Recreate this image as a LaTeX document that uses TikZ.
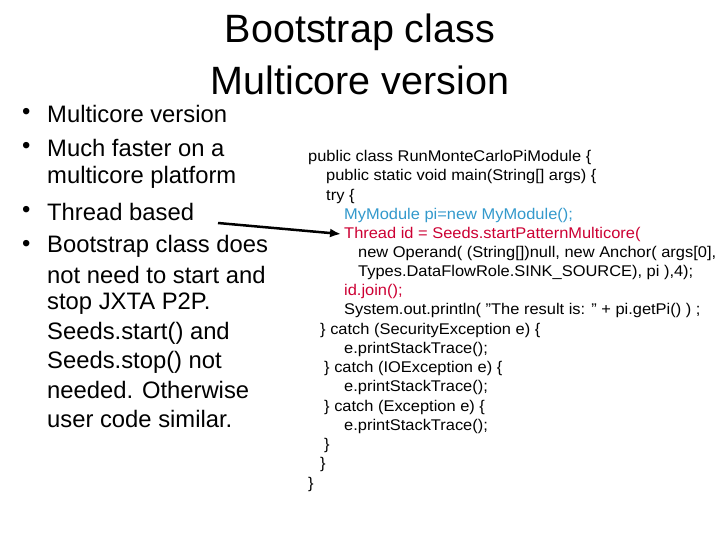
\documentclass[tikz,border=0pt]{standalone}
\usepackage{fontspec}
\setmainfont{Liberation Sans}
\usetikzlibrary{arrows.meta}
\definecolor{cblue}{RGB}{51,153,204}
\definecolor{cred}{RGB}{204,0,51}
\begin{document}
\begin{tikzpicture}[x=1pt,y=-1pt,
  code/.style={anchor=west,inner sep=0pt,font=\fontsize{15.5}{17}\selectfont,xscale=1.06},
  bul/.style={anchor=west,inner sep=0pt,font=\fontsize{23.8}{29}\selectfont},
  ttl/.style={inner sep=0pt,font=\fontsize{39.5}{44}\selectfont}]
\useasboundingbox (0,0) rectangle (720,540);
\node[ttl] (t1) at (360,32) {Bootstrap class};
\node[ttl] (t2) at (360,80) {Multicore version};
\foreach \y/\t [count=\i] in {114/Multicore version,148/Much faster on a,212/Thread based,246/Bootstrap class does}{
  \node[bul] (d\i) at (22,\y) {•};
  \node[bul] (b\i) at (47,\y) {\t};}
\foreach \y/\t [count=\i] in {177/multicore platform,275/not need to start and,304/stop JXTA P2P.,333/Seeds.start() and,362/Seeds.stop() not,390/needed.  Otherwise,419/user code similar.}{
  \node[bul] (c\i) at (47,\y) {\t};}
\node[code] (l1) at (308,157) {public class RunMonteCarloPiModule \{};
\node[code] (l2) at (326,176) {public static void main(String[] args) \{};
\node[code] (l3) at (326,196) {try \{};
\node[code,text=cblue] (l4) at (344,215) {MyModule pi=new MyModule();};
\node[code,text=cred] (l5) at (344,234) {Thread id = Seeds.startPatternMulticore(};
\node[code] (l6) at (358,253) {new Operand( (String[])null, new Anchor( args[0],};
\node[code] (l7) at (358,272) {Types.DataFlowRole.SINK\_SOURCE), pi ),4);};
\node[code,text=cred] (l8) at (344,291) {id.join();};
\node[code] (l9) at (344,310) {System.out.println( "The result is: " + pi.getPi() ) ;};
\node[code] (l10) at (320,330) {\} catch (SecurityException e) \{};
\node[code] (l11) at (344,349) {e.printStackTrace();};
\node[code] (l12) at (324,368) {\} catch (IOException e) \{};
\node[code] (l13) at (344,387) {e.printStackTrace();};
\node[code] (l14) at (324,407) {\} catch (Exception e) \{};
\node[code] (l15) at (344,426) {e.printStackTrace();};
\node[code] (l16) at (324,445) {\}};
\node[code] (l17) at (320,464) {\}};
\node[code] (l18) at (308,484) {\}};
\coordinate (as) at (218,223);
\draw[line width=2.5pt,-{Latex[length=11pt,width=9pt]}] (as) -- ([xshift=-3pt]l5.west);
\end{tikzpicture}
\end{document}
